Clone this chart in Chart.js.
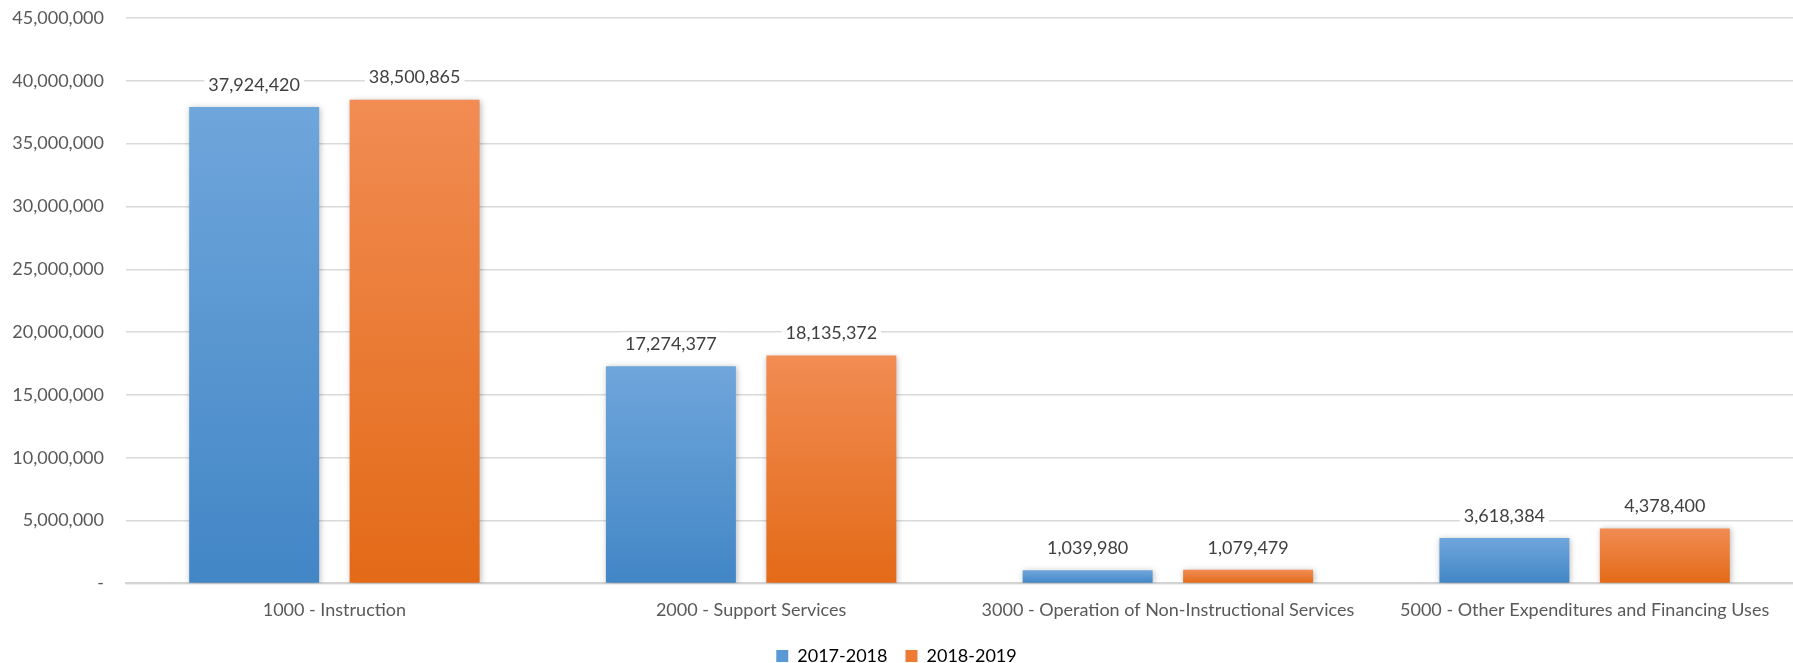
<!DOCTYPE html>
<html>
<head>
<meta charset="utf-8">
<script src="https://cdn.jsdelivr.net/npm/chart.js@4/dist/chart.umd.min.js"></script>
<style>
  html, body { margin: 0; padding: 0; background: #fff; }
  #wrap { width: 1793px; height: 663px; position: relative; }
</style>
</head>
<body>
<div id="wrap"><canvas id="chart"></canvas></div>
<script>
// Expenditures by function, two fiscal years
const categories = [
  '1000 - Instruction',
  '2000 - Support Services',
  '3000 - Operation of Non-Instructional Services',
  '5000 - Other Expenditures and Financing Uses'
];
const fy2018 = [37924420, 17274377, 1039980, 3618384];
const fy2019 = [38500865, 18135372, 1079479, 4378400];
const seriesNames = ['2017-2018', '2018-2019'];
const yTicks = [0, 5000000, 10000000, 15000000, 20000000, 25000000, 30000000, 35000000, 40000000, 45000000];

const FONT = 'Lato, "Open Sans", sans-serif';
const fmt = v => v.toLocaleString('en-US');

// vertical gradient per bar: lighter at the top, darker at the base
function barGradient(top, bottom) {
  return ctx => {
    const chart = ctx.chart;
    const y = chart.scales && chart.scales.y;
    if (!chart.chartArea || !y || ctx.parsed == null) return bottom;
    const y0 = y.getPixelForValue(0);
    const y1 = y.getPixelForValue(ctx.parsed.y);
    if (!isFinite(y0) || !isFinite(y1) || y0 === y1) return bottom;
    const g = chart.ctx.createLinearGradient(0, y1, 0, y0);
    g.addColorStop(0, top);
    g.addColorStop(1, bottom);
    return g;
  };
}

// soft drop shadow under the bars
const barShadow = {
  id: 'barShadow',
  beforeDatasetsDraw(chart) {
    const c = chart.ctx;
    c.save();
    c.shadowColor = 'rgba(0,0,0,0.28)';
    c.shadowBlur = 6;
    c.shadowOffsetX = 1;
    c.shadowOffsetY = 1;
  },
  afterDatasetsDraw(chart) {
    chart.ctx.restore();
  }
};

// value labels above each bar, on a white backing
const valueLabels = {
  id: 'valueLabels',
  afterDatasetsDraw(chart) {
    const c = chart.ctx;
    c.save();
    c.font = '18px ' + FONT;
    c.textAlign = 'center';
    c.textBaseline = 'bottom';
    chart.data.datasets.forEach((ds, i) => {
      chart.getDatasetMeta(i).data.forEach((bar, j) => {
        const txt = fmt(ds.data[j]);
        const w = c.measureText(txt).width;
        const yb = bar.y - 13;
        c.fillStyle = '#fff';
        c.fillRect(bar.x - w / 2 - 4, yb - 21, w + 8, 23);
        c.fillStyle = '#404040';
        c.fillText(txt, bar.x, yb);
      });
    });
    c.restore();
  }
};

new Chart(document.getElementById('chart'), {
  type: 'bar',
  data: {
    labels: categories,
    datasets: [
      {
        label: seriesNames[0],
        data: fy2018,
        backgroundColor: barGradient('#6fa6db', '#4286c6'),
        categoryPercentage: 0.77,
        barPercentage: 0.81
      },
      {
        label: seriesNames[1],
        data: fy2019,
        backgroundColor: barGradient('#f18c53', '#e36a17'),
        categoryPercentage: 0.77,
        barPercentage: 0.81
      }
    ]
  },
  options: {
    responsive: true,
    maintainAspectRatio: false,
    animation: false,
    layout: { padding: { top: 18, right: 0, bottom: -12, left: 0 } },
    scales: {
      x: {
        grid: { display: false },
        border: { color: '#d4d4d4', width: 2 },
        ticks: { color: '#595959', font: { family: FONT, size: 18 }, padding: 8 }
      },
      y: {
        min: 0,
        max: 45000000,
        // fixed axis width; drop the extra top padding the tick gap adds
        afterFit: s => { s.width = 126; s.paddingTop = 0; s.paddingBottom = 0; },
        afterBuildTicks: s => { s.ticks = yTicks.map(v => ({ value: v })); },
        grid: { color: '#d9d9d9', lineWidth: 1.5, drawTicks: false },
        border: { display: false },
        ticks: {
          color: '#595959',
          font: { family: FONT, size: 18 },
          padding: 22,
          callback: v => v === 0 ? '-' : fmt(v)
        }
      }
    },
    plugins: {
      legend: {
        position: 'bottom',
        labels: {
          color: '#595959',
          font: { family: FONT, size: 18 },
          boxWidth: 12,
          boxHeight: 12,
          padding: 18,
          generateLabels: chart => seriesNames.map((n, i) => ({
            text: n,
            fillStyle: i === 0 ? '#5a99d6' : '#ee7b34',
            strokeStyle: 'transparent',
            lineWidth: 0,
            datasetIndex: i
          }))
        }
      },
      tooltip: { enabled: false }
    }
  },
  plugins: [barShadow, valueLabels]
});
</script>
</body>
</html>
